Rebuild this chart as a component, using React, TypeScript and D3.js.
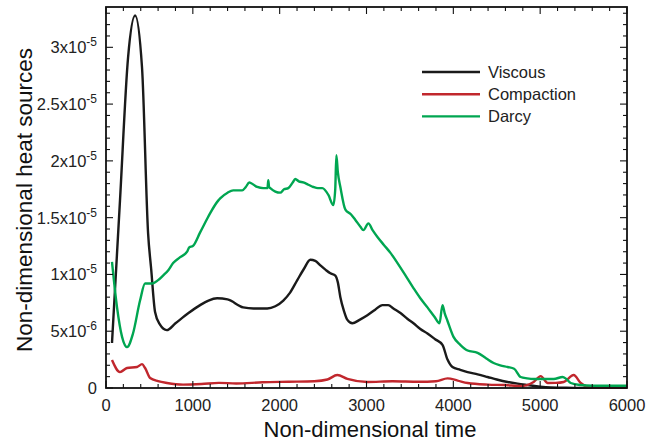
import React from "react";
import * as d3 from "d3";

const viscousT = [69, 161, 254, 335, 415, 485, 520, 565, 620, 700, 800, 950, 1084, 1180, 1280, 1400, 1580, 1700, 1857, 1950, 2042, 2120, 2203, 2280, 2353, 2410, 2468, 2530, 2584, 2641, 2670, 2699, 2740, 2780, 2837, 2920, 3010, 3100, 3183, 3250, 3310, 3391, 3470, 3541, 3620, 3702, 3790, 3875, 3933, 3990, 4080, 4164, 4280, 4394, 4500, 4625, 4740, 4856, 5000, 5121, 5300, 5600, 6000];
const viscousV = [3.96, 16.5, 29.1, 32.8, 28.2, 13.6, 10.5, 6.7, 5.6, 5.1, 5.7, 6.6, 7.3, 7.7, 7.9, 7.8, 7.1, 7.0, 7.0, 7.2, 7.7, 8.4, 9.5, 10.5, 11.3, 11.2, 10.8, 10.4, 10.1, 9.9, 9.3, 8.0, 6.8, 6.0, 5.7, 6.0, 6.4, 6.9, 7.3, 7.3, 7.0, 6.6, 6.1, 5.7, 5.2, 4.8, 4.3, 3.8, 2.5, 1.85, 1.6, 1.4, 1.2, 0.97, 0.75, 0.53, 0.38, 0.26, 0.12, 0.05, 0.02, 0.01, 0.01];

const compactionT = [69, 161, 242, 357, 415, 450, 508, 600, 703, 888, 1100, 1300, 1500, 1800, 2100, 2400, 2550, 2664, 2780, 3010, 3300, 3600, 3800, 3933, 4050, 4164, 4400, 4600, 4775, 4925, 5006, 5087, 5180, 5271, 5386, 5467, 5548, 5650, 6000];
const compactionV = [2.46, 1.4, 1.76, 1.85, 2.1, 1.76, 0.88, 0.6, 0.44, 0.3, 0.35, 0.45, 0.4, 0.5, 0.55, 0.6, 0.75, 1.14, 0.8, 0.53, 0.6, 0.55, 0.6, 0.85, 0.65, 0.44, 0.3, 0.26, 0.17, 0.53, 1.05, 0.44, 0.45, 0.53, 1.14, 0.44, 0.1, 0.02, 0.02];

const darcyT = [69, 127, 185, 242, 311, 392, 450, 530, 600, 657, 720, 773, 850, 934, 960, 1000, 1084, 1165, 1200, 1292, 1315, 1400, 1465, 1569, 1610, 1650, 1700, 1742, 1811, 1860, 1869, 1878, 1892, 1950, 2007, 2050, 2099, 2150, 2180, 2220, 2272, 2330, 2388, 2440, 2491, 2561, 2618, 2640, 2653, 2670, 2699, 2757, 2820, 2872, 2930, 2964, 3022, 3070, 3126, 3200, 3276, 3391, 3450, 3541, 3620, 3702, 3780, 3841, 3875, 3900, 3933, 4002, 4080, 4164, 4279, 4380, 4464, 4540, 4625, 4700, 4775, 4850, 4925, 5050, 5156, 5259, 5300, 5352, 5467, 5600, 6000];
const darcyV = [11.1, 7.1, 4.5, 3.6, 4.8, 7.7, 9.2, 9.2, 9.5, 9.9, 10.4, 11.0, 11.5, 12.0, 12.4, 12.5, 13.7, 14.9, 15.4, 16.5, 16.7, 17.2, 17.4, 17.4, 17.7, 18.1, 17.9, 17.7, 17.6, 17.6, 18.3, 17.7, 17.6, 17.3, 17.2, 17.5, 17.6, 18.1, 18.4, 18.2, 18.1, 17.9, 17.7, 17.6, 17.6, 17.0, 16.1, 17.5, 20.5, 19.0, 17.7, 15.7, 15.3, 14.8, 14.2, 13.9, 14.5, 13.9, 13.3, 12.6, 11.9, 10.6, 9.9, 8.8, 7.9, 7.1, 6.3, 5.7, 7.3, 6.6, 5.9, 4.5, 3.8, 3.3, 3.1, 2.6, 2.2, 2.0, 1.85, 1.7, 0.97, 0.85, 0.79, 0.79, 0.79, 0.97, 0.8, 0.44, 0.26, 0.2, 0.2];

const seriesNames = ["Viscous", "Compaction", "Darcy"];
const seriesColors = ["#1a1a1a", "#c1272d", "#00a651"];

const xTicks = [0, 1000, 2000, 3000, 4000, 5000, 6000];
const yTickMantissa = ["0", "5x10", "1x10", "1.5x10", "2x10", "2.5x10", "3x10"];
const yTickExp = ["", "-6", "-5", "-5", "-5", "-5", "-5"];
const yTickValues = [0, 5e-6, 1e-5, 1.5e-5, 2e-5, 2.5e-5, 3e-5];

export default function App() {
  const W = 659, H = 443;
  const left = 106, right = 627, top = 7, bottom = 388;
  const x = d3.scaleLinear().domain([0, 6000]).range([left, right]);
  const y = d3.scaleLinear().domain([0, 3.355e-5]).range([bottom, top]);
  const line = d3
    .line<[number, number]>()
    .x((d) => x(d[0]))
    .y((d) => y(d[1]))
    .curve(d3.curveMonotoneX);
  const mk = (t: number[], v: number[]) => t.map((tt, i) => [tt, v[i] * 1e-6] as [number, number]);
  const data = [mk(viscousT, viscousV), mk(compactionT, compactionV), mk(darcyT, darcyV)];

  const xMinor = d3.range(0, 6001, 200);
  const yMinor = d3.range(0, 3.36e-5, 1e-6);
  const font = "'Liberation Sans', Arial, Helvetica, sans-serif";

  return (
    <svg width={W} height={H} style={{ position: "absolute", left: 0, top: 0 }} fontFamily={font}>
      <rect x={0} y={0} width={W} height={H} fill="#fff" />
      {/* series */}
      <g fill="none" strokeWidth={2.4} strokeLinejoin="round">
        {data.map((d, i) => (
          <path key={i} d={line(d) || ""} stroke={seriesColors[i]} />
        ))}
      </g>
      {/* frame */}
      <rect x={left} y={top} width={right - left} height={bottom - top} fill="none" stroke="#111" strokeWidth={1.8} />
      {/* ticks */}
      <g stroke="#111" strokeWidth={1.1}>
        {xMinor.map((t, i) => {
          const major = t % 1000 === 0;
          const len = major ? 7 : 4;
          return (
            <g key={i}>
              <line x1={x(t)} x2={x(t)} y1={bottom} y2={bottom - len} />
              <line x1={x(t)} x2={x(t)} y1={top} y2={top + len} />
            </g>
          );
        })}
        {yMinor.map((v, i) => {
          const major = i % 5 === 0;
          const len = major ? 7 : 4;
          return (
            <g key={i}>
              <line x1={left} x2={left + len} y1={y(v)} y2={y(v)} />
              <line x1={right} x2={right - len} y1={y(v)} y2={y(v)} />
            </g>
          );
        })}
      </g>
      {/* x tick labels */}
      <g fontSize={16.5} fill="#222" textAnchor="middle">
        {xTicks.map((t) => (
          <text key={t} x={x(t)} y={bottom + 23}>
            {t}
          </text>
        ))}
      </g>
      {/* y tick labels */}
      <g fontSize={16.5} fill="#222" textAnchor="end">
        {yTickValues.map((v, i) => (
          <text key={i} x={97} y={y(v) + 6}>
            {yTickMantissa[i]}
            {yTickExp[i] && (
              <tspan fontSize={12} dy={-7}>
                {yTickExp[i]}
              </tspan>
            )}
          </text>
        ))}
      </g>
      {/* axis titles */}
      <text x={370} y={437} textAnchor="middle" fontSize={22} fill="#111">
        Non-dimensional time
      </text>
      <text
        transform={`translate(32, 200) rotate(-90)`}
        textAnchor="middle"
        fontSize={22.5}
        fill="#111"
      >
        Non-dimensional heat sources
      </text>
      {/* legend */}
      {seriesNames.map((n, i) => (
        <g key={n} transform={`translate(422, ${72 + i * 22.2})`}>
          <line x1={0} x2={58} y1={0} y2={0} stroke={seriesColors[i]} strokeWidth={2.4} />
          <text x={66} y={6} fontSize={16.5} fill="#222">
            {n}
          </text>
        </g>
      ))}
    </svg>
  );
}
